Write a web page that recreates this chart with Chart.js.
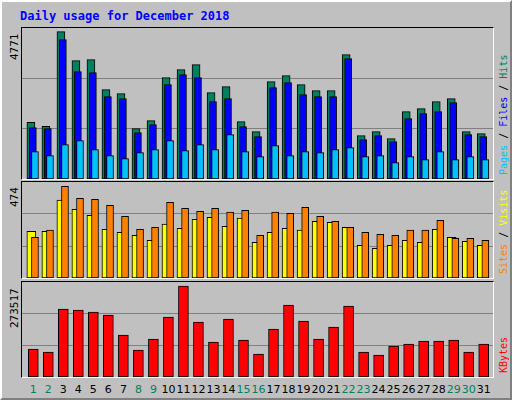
<!DOCTYPE html>
<html><head><meta charset="utf-8">
<script src="https://cdn.jsdelivr.net/npm/chart.js@4"></script>
<style>
body{margin:0;background:#c0c0c0;}
#wrap{position:absolute;left:0;top:0;width:508px;height:396px;background:#c0c0c0;border-left:2px solid #fff;border-top:2px solid #fff;border-right:2px solid #808080;border-bottom:2px solid #808080;}
canvas{position:absolute;}
.frame{position:absolute;border-top:1px solid #000;border-left:1px solid #000;border-right:1px solid #fff;border-bottom:1px solid #fff;}
.t{position:absolute;font-family:"DejaVu Sans Mono",monospace;font-size:11px;white-space:nowrap;}
.rot{transform:rotate(-90deg);transform-origin:left top;}
.day{position:absolute;font-family:"DejaVu Sans",sans-serif;font-size:11px;width:20px;text-align:center;top:381px;}
</style></head><body>
<div id="wrap"></div>
<script>
const days=[1,2,3,4,5,6,7,8,9,10,11,12,13,14,15,16,17,18,19,20,21,22,23,24,25,26,27,28,29,30,31];
const weekend=[1,2,8,9,15,16,22,23,29,30];
const hits=[1834,1705,4771,3830,3863,2892,2762,1629,1888,3280,3539,3701,2795,2989,1856,1532,3151,3345,3054,2859,2859,4025,1403,1532,1306,2180,2277,2503,2600,1532,1467];
const files=[1662,1629,4510,3474,3442,2665,2600,1500,1759,3054,3377,3280,2503,2600,1694,1370,2956,3118,2730,2665,2665,3895,1273,1403,1208,1953,2115,2180,2471,1435,1370];
const pages=[885,755,1111,1241,950,755,658,852,950,1241,917,1111,950,1435,885,723,1079,755,885,852,950,1014,723,755,529,723,626,885,626,723,626];
const visits=[241,241,402,355,324,252,236,221,195,278,257,303,314,267,309,184,236,257,247,293,288,262,169,153,169,195,184,252,210,190,169];
const sites=[210,247,474,412,407,376,319,252,262,391,360,345,360,340,350,221,340,334,365,319,293,262,236,226,221,247,247,298,205,205,195];
const kbytes=[84168,75150,204408,201402,195390,186372,126252,81162,114228,180360,273517,165330,105210,174348,111222,69138,144288,216432,168336,114228,150300,213426,75150,66132,93186,99198,108216,108216,111222,75150,99198];
const maxLabels=["4771","474","273517"];

const W=document.getElementById('wrap');
const XMIN=0.247,XMAX=31.62,PX=20,PW=471;
function add(el){W.appendChild(el);return el;}
function div(cls,txt,css){const d=document.createElement('div');d.className=cls;d.textContent=txt;Object.assign(d.style,css);return add(d);}
div('t','Daily usage for December 2018',{left:'18px',top:'7px',color:'#0000ff',fontWeight:'bold',fontSize:'12px'});

function panel(top,h,ymax,sets,maxLbl,rightParts){
  div('frame','',{left:(PX-1)+'px',top:(top-1)+'px',width:PW+'px',height:h+'px'});
  const c=document.createElement('canvas');c.width=PW;c.height=h;c.style.left=PX+'px';c.style.top=top+'px';add(c);
  new Chart(c,{type:'bar',data:{datasets:sets.map(s=>({data:s.v.map((y,i)=>({x:days[i]+s.off,y})),backgroundColor:s.c,borderColor:'#000',borderWidth:1,barThickness:s.w,order:s.o,borderSkipped:false,grouped:false}))},
    options:{responsive:false,animation:false,devicePixelRatio:1,layout:{padding:0},plugins:{legend:{display:false},tooltip:{enabled:false}},
      scales:{x:{type:'linear',min:XMIN,max:XMAX,offset:false,display:false},
        y:{min:0,max:ymax,display:true,border:{display:false},ticks:{display:false},
           afterBuildTicks:a=>{a.ticks=[{value:ymax/3},{value:2*ymax/3}];},
           grid:{color:'#808080',lineWidth:1,drawTicks:false}}}}});
  div('t rot',maxLbl,{left:'6px',top:(top+4+maxLbl.length*7)+'px',color:'#000'});
  const r=document.createElement('div');r.className='t rot';r.style.left='496px';r.style.fontSize='10px';
  rightParts.forEach(p=>{const s=document.createElement('span');s.textContent=p[0];s.style.color=p[1];r.appendChild(s);});
  r.style.top=(top+h-4)+'px';
  add(r);
}
panel(26,151,4888,[{v:hits,c:'#008060',off:-0.16,w:8,o:3},{v:files,c:'#0000ff',off:-0.03,w:7,o:2},{v:pages,c:'#00c0ff',off:0.11,w:7,o:1}],maxLabels[0],
  [['Pages','#00c0ff'],[' / ','#000'],['Files','#0000ff'],[' / ','#000'],['Hits','#008060']]);
panel(180,96,496,[{v:visits,c:'#ffff00',off:-0.13,w:9,o:2},{v:sites,c:'#ff8000',off:0.11,w:7,o:1}],maxLabels[1],
  [['Sites','#ff8000'],[' / ','#000'],['Visits','#ffff00']]);
panel(280,95,285540,[{v:kbytes,c:'#ff0000',off:0,w:10,o:1}],maxLabels[2],[['KBytes','#ff0000']]);
days.forEach(d=>{const x=PX+(d-XMIN)/(XMAX-XMIN)*PW;div('day',String(d),{left:(x-10)+'px',color:weekend.includes(d)?'#00805c':'#000'});});
</script></body></html>
